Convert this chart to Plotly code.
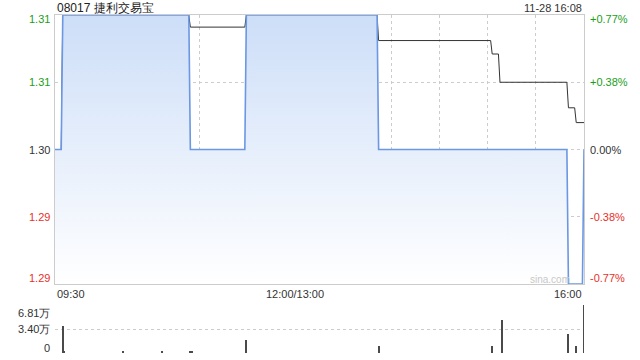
import plotly.graph_objects as go

# ---- data (minute index from 09:30, 0..340) ----
price_t = [0, 4, 5, 86, 87, 122, 123, 207, 208, 329, 330, 339, 340]
price_v = [1.30, 1.30, 1.31, 1.31, 1.30, 1.30, 1.31, 1.31, 1.30, 1.30, 1.29, 1.29, 1.30]

avg_t = [0, 4, 5, 86, 87, 122, 123, 207, 208, 280, 281, 285, 286, 329, 330, 334, 335, 340]
avg_v = [1.30, 1.30, 1.31, 1.31, 1.3091, 1.3091, 1.31, 1.31, 1.3081, 1.3081, 1.3071,
         1.3071, 1.3050, 1.3050, 1.3031, 1.3031, 1.3020, 1.3020]

vol_t = [5, 6, 44, 69, 87, 88, 123, 208, 281, 287, 330, 335, 340]
vol_v = [38700, 2400, 2400, 2400, 2600, 1500, 18400, 9900, 9900, 46800, 27400, 9900, 68100]

prev_close = 1.30
y_ticks = [1.29, 1.295, 1.30, 1.305, 1.31]
y_labels = ["1.29", "1.29", "1.30", "1.31", "1.31"]
pct_labels = ["-0.77%", "-0.38%", "0.00%", "+0.38%", "+0.77%"]
vol_ticks = [0, 34050, 68100]
vol_labels = ["0", "3.40万", "6.81万"]
x_labels = ["09:30", "12:00/13:00", "16:00"]
x_label_pos = [0, 154.5, 340]

title = "08017 捷利交易宝"
stamp = "11-28 16:08"

GREEN = "#1a9e1a"
RED = "#e8302a"
DARK = "#333333"
GRID = "#cccccc"
FONT = "Liberation Sans, Arial, sans-serif"

fig = go.Figure()

fig.add_trace(go.Scatter(x=avg_t, y=avg_v, mode="lines",
                         line=dict(color="#333333", width=1), hoverinfo="skip",
                         xaxis="x", yaxis="y"))
fig.add_trace(go.Scatter(x=price_t, y=price_v, mode="lines",
                         line=dict(color="#6b97e3", width=1.6),
                         fill="tozeroy",
                         fillgradient=dict(type="vertical", start=1.29, stop=1.31,
                                           colorscale=[[0, "rgba(255,255,255,1)"],
                                                       [1, "#cddef8"]]),
                         hoverinfo="skip", xaxis="x", yaxis="y"))
fig.add_trace(go.Bar(x=vol_t, y=vol_v, width=0.6, marker=dict(color="#4a4a4a", line=dict(width=0)),
                     hoverinfo="skip", xaxis="x2", yaxis="y2"))

ann = []
for v, lab, pct in zip(y_ticks, y_labels, pct_labels):
    if v > prev_close + 1e-9:
        c = GREEN
    elif v < prev_close - 1e-9:
        c = RED
    else:
        c = DARK
    ys = 0
    if v == max(y_ticks):
        ys = -4
    elif v == min(y_ticks):
        ys = 6
    ann.append(dict(x=0, y=v, xref="paper", yref="y", text=lab, showarrow=False,
                    xanchor="right", yanchor="middle", xshift=-3, yshift=ys,
                    font=dict(size=11, color=c, family=FONT)))
    ann.append(dict(x=1, y=v, xref="paper", yref="y", text=pct, showarrow=False,
                    xanchor="left", yanchor="middle", xshift=4, yshift=ys,
                    font=dict(size=11, color=c, family=FONT)))

for v, lab in zip(vol_ticks, vol_labels):
    ys = 0
    if v == max(vol_ticks):
        ys = -8
    elif v == 0:
        ys = 5
    ann.append(dict(x=0, y=v, xref="paper", yref="y2", text=lab, showarrow=False,
                    xanchor="right", yanchor="middle", xshift=-3, yshift=ys,
                    font=dict(size=11, color=DARK, family=FONT)))

anchors = ["left", "center", "right"]
for xp, lab, a in zip(x_label_pos, x_labels, anchors):
    ann.append(dict(x=xp, y=1.29, xref="x", yref="y", text=lab, showarrow=False,
                    xanchor=a, yanchor="middle", yshift=-10,
                    font=dict(size=11, color=DARK, family=FONT)))

ann.append(dict(x=0, y=1, xref="paper", yref="paper", text=title, showarrow=False,
                xanchor="left", yanchor="middle", yshift=7,
                font=dict(size=12, color="#222222", family=FONT)))
ann.append(dict(x=1, y=1, xref="paper", yref="paper", text=stamp, showarrow=False,
                xanchor="right", yanchor="middle", yshift=7,
                font=dict(size=11, color=DARK, family=FONT)))
ann.append(dict(x=1, y=1.29, xref="paper", yref="y", text="sina.com", showarrow=False,
                xanchor="right", yanchor="middle", xshift=-12, yshift=5,
                font=dict(size=10, color="#c8c8c8", family=FONT)))

H_TOTAL = 338.0
fig.update_layout(
    width=640, height=360,
    margin=dict(l=55, r=56, t=15, b=7),
    paper_bgcolor="white", plot_bgcolor="white",
    showlegend=False, hovermode=False,
    annotations=ann,
    bargap=0,
    xaxis=dict(range=[0, 340], domain=[0, 1], anchor="y", showline=True, mirror=True,
               linecolor=GRID, linewidth=1, showgrid=True, gridcolor=GRID, griddash="dot",
               gridwidth=1, tick0=0, dtick=340 / 11, showticklabels=False, ticks="",
               zeroline=False, fixedrange=True),
    yaxis=dict(range=[1.29, 1.31], domain=[69 / H_TOTAL, 1], anchor="x", showline=True,
               mirror=True, linecolor=GRID, linewidth=1, showgrid=True, gridcolor=GRID,
               griddash="dot", tickvals=y_ticks, showticklabels=False, ticks="",
               zeroline=False, fixedrange=True),
    xaxis2=dict(range=[0, 340], domain=[0, 1], anchor="y2", showline=False, showgrid=True,
                gridcolor=GRID, griddash="dot", tickvals=[0], showticklabels=False,
                ticks="", zeroline=False, fixedrange=True),
    yaxis2=dict(range=[0, 68100], domain=[0, 48 / H_TOTAL], anchor="x2", showline=False,
                showgrid=True, gridcolor=GRID, griddash="dot", tickvals=vol_ticks,
                showticklabels=False, ticks="", zeroline=False, fixedrange=True),
)

fig.write_html("out.html")
